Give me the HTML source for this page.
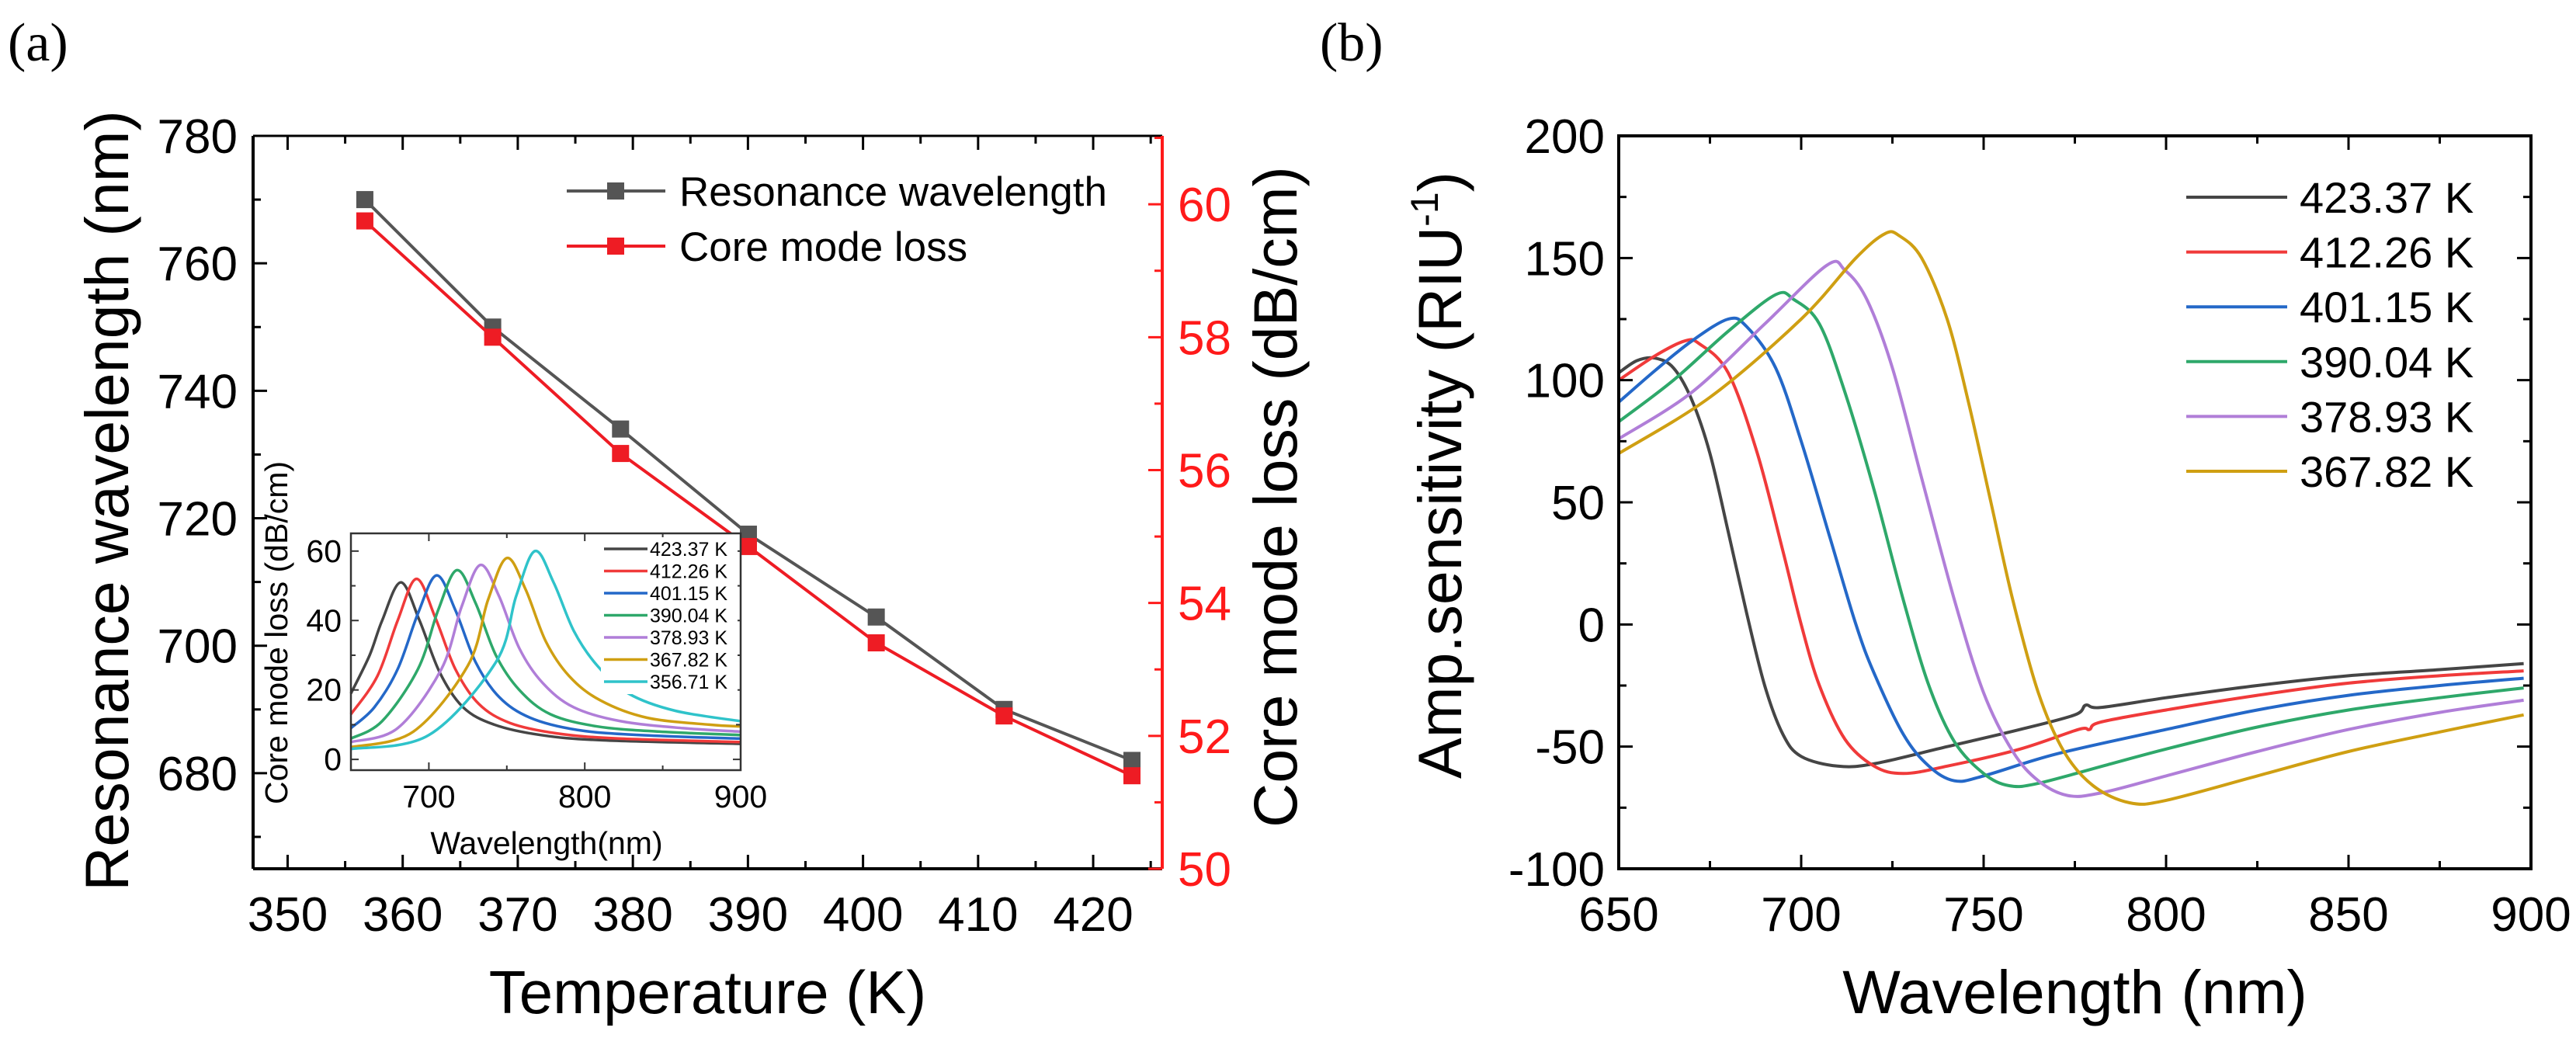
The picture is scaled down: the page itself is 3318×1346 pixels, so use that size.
<!DOCTYPE html>
<html><head><meta charset="utf-8"><style>
body{margin:0;background:#fff}
svg text{font-family:"Liberation Sans",Arial,sans-serif}
</style></head><body>
<svg id="fig" width="3318" height="1341" viewBox="0 0 3318 1341" xmlns="http://www.w3.org/2000/svg">
<rect width="3318" height="1341" fill="#fff"/>
<g id="A"></g>
<g id="B"></g>
</svg>
<script>
// ---- Panel (a) data ----
const tempK = [356.71, 367.82, 378.93, 390.04, 401.15, 412.26, 423.37];
const resWavelength = [770, 750, 734, 717.5, 704.5, 690, 682];
const coreLoss = [59.75, 58.0, 56.25, 54.85, 53.4, 52.3, 51.4];
const aXTicks = [350, 360, 370, 380, 390, 400, 410, 420];
const aYTicks = [680, 700, 720, 740, 760, 780];
const aY2Ticks = [50, 52, 54, 56, 58, 60];
// ---- Inset data ----
const insetLabels = ["423.37 K","412.26 K","401.15 K","390.04 K","378.93 K","367.82 K","356.71 K"];
const insetK423 = [[650,19],[662,30],[670,40],[682,51],[694,40],[707,25],[722,15],[742,10],[772,7],[812,5.5],[900,4.5]];
const insetK412 = [[650,13],[667,24],[680,40],[692,52],[704,41],[717,26],[732,16],[752,10.5],[782,7.5],[822,6],[900,5]];
const insetK401 = [[650,9],[665,15],[680,26],[693,42],[705,53],[717,43],[730,28],[745,18],[765,12],[795,8.5],[835,7],[900,6]];
const insetK390 = [[650,6],[670,11],[693,26],[706,43],[718,54.5],[730,45],[743,30],[758,20],[778,13],[808,9.5],[848,8],[900,7]];
const insetK379 = [[650,5],[680,9],[708,26],[721,44],[733,56],[745,47],[758,32],[773,22],[793,15],[823,11],[863,9],[900,8]];
const insetK368 = [[650,3.5],[690,8],[725,27],[738,46],[750,58],[762,49],[775,34],[790,24],[810,17],[840,12],[880,10],[900,9.5]];
const insetK357 = [[650,3],[700,7],[743,28],[756,47],[768,60],[780,51],[793,37],[808,27],[828,19],[858,14],[900,11]];
const insetXTicks = [700, 800, 900];
const insetYTicks = [0, 20, 40, 60];
// ---- Panel (b) data ----
const bLabels = ["423.37 K","412.26 K","401.15 K","390.04 K","378.93 K","367.82 K"];
const sensK423 = [[650,103],[655,108],[660,109],[665,105],[670,92],[675,70],[680,38],[685,5],[690,-25],[695,-45],[700,-54],[710,-58],[720,-57],[740,-50],[760,-43],[775,-37],[778,-33],[782,-34],[800,-30],[825,-25],[850,-21],[875,-18.5],[898,-16]];
const sensK412 = [[650,100],[660,110],[668,116],[672,115],[680,103],[688,70],[695,30],[700,0],[705,-25],[712,-47],[720,-58],[728,-61],[740,-58],[760,-51],[776,-43],[779,-43],[782,-40],[800,-35],[825,-29],[850,-24],[875,-21],[898,-19]];
const sensK401 = [[650,91],[660,104],[670,116],[680,125],[685,122],[693,105],[700,75],[708,35],[715,0],[720,-20],[728,-45],[735,-58],[742,-64],[750,-62],[770,-53],[800,-43],[825,-35],[850,-29],[875,-25],[898,-22]];
const sensK390 = [[650,83],[665,100],[680,120],[693,135],[698,133],[705,123],[712,95],[720,55],[728,10],[735,-25],[742,-48],[750,-61],[757,-66],[765,-65],[785,-57],[800,-51],[825,-42],[850,-35],[875,-30],[898,-26]];
const sensK379 = [[650,76],[670,95],[690,123],[707,147],[712,145],[718,133],[725,105],[733,60],[742,10],[750,-28],[758,-52],[765,-64],[773,-70],[782,-69],[800,-62],[825,-52],[850,-43],[875,-36],[898,-31]];
const sensK368 = [[650,70],[675,93],[700,125],[715,150],[723,160],[727,159],[733,150],[740,125],[746,90],[752,50],[758,10],[765,-28],[772,-52],[780,-66],[790,-73],[800,-72],[825,-62],[850,-52],[875,-44],[898,-37]];
const bXTicks = [650, 700, 750, 800, 850, 900];
const bYTicks = [-100, -50, 0, 50, 100, 150, 200];

const NS = "http://www.w3.org/2000/svg";
function mk(parent, tag, attrs, txt){
  const e = document.createElementNS(NS, tag);
  for (const k in attrs) e.setAttribute(k, attrs[k]);
  if (txt !== undefined) e.textContent = txt;
  parent.appendChild(e); return e;
}
function lin(d0,d1,r0,r1){ return v => r0 + (v-d0)/(d1-d0)*(r1-r0); }
function smoothPath(pts){
  let d = "M" + pts[0][0].toFixed(1) + "," + pts[0][1].toFixed(1);
  for (let i=0;i<pts.length-1;i++){
    const p0 = pts[Math.max(0,i-1)], p1 = pts[i], p2 = pts[i+1], p3 = pts[Math.min(pts.length-1,i+2)];
    const c1x = p1[0]+(p2[0]-p0[0])/6, c1y = p1[1]+(p2[1]-p0[1])/6;
    const c2x = p2[0]-(p3[0]-p1[0])/6, c2y = p2[1]-(p3[1]-p1[1])/6;
    d += " C"+c1x.toFixed(1)+","+c1y.toFixed(1)+" "+c2x.toFixed(1)+","+c2y.toFixed(1)+" "+p2[0].toFixed(1)+","+p2[1].toFixed(1);
  }
  return d;
}
const colors = ["#454545","#f03a3a","#2468c8","#2ea86a","#b07ed8","#cf9f12","#2fc3ca"];

// ===== Panel (a) =====
const A = document.getElementById("A");
const aL=326, aR=1497, aT=175, aB=1119;
const ax = lin(347, 426, aL, aR);
const ay = lin(665, 780, aB, aT);
const ay2 = lin(50, 61.03, aB, aT);
let t = mk(A,"text",{x:10,y:78,"font-size":70,"font-family":"Liberation Serif, serif",style:"font-family:'Liberation Serif',serif"},"(a)");


let g = mk(A,"g",{});  
mk(g,"line",{x1:aL,y1:aB,x2:aR,y2:aB,stroke:"#000","stroke-width":4});
mk(g,"line",{x1:aL,y1:aT,x2:aR,y2:aT,stroke:"#000","stroke-width":3});
for (let v=350; v<=425; v+=5){
  const maj = v%10===0;
  mk(g,"line",{x1:ax(v),y1:aB,x2:ax(v),y2:aB-(maj?18:10),stroke:"#000","stroke-width":3});
  mk(g,"line",{x1:ax(v),y1:aT,x2:ax(v),y2:aT+(maj?18:10),stroke:"#000","stroke-width":3});
}
aXTicks.forEach(v=>{ const e=mk(g,"text",{x:ax(v),y:aB+80,"font-size":62,"text-anchor":"middle"},String(v));
   });
t = mk(A,"text",{x:(aL+aR)/2,y:1305,"font-size":78,"text-anchor":"middle"},"Temperature (K)");
 
g = mk(A,"g",{});  
mk(g,"line",{x1:aL,y1:aT,x2:aL,y2:aB,stroke:"#000","stroke-width":4});
for (let v=670; v<=780; v+=10){
  const maj = v%20===0;
  mk(g,"line",{x1:aL,y1:ay(v),x2:aL+(maj?18:10),y2:ay(v),stroke:"#000","stroke-width":3});
}
aYTicks.forEach(v=>{ const e=mk(g,"text",{x:aL-20,y:ay(v)+22,"font-size":62,"text-anchor":"end"},String(v));
   });
t = mk(A,"text",{x:0,y:0,"font-size":79,"text-anchor":"middle",transform:"translate(165,645) rotate(-90)"},"Resonance wavelength (nm)");
 
g = mk(A,"g",{});  
mk(g,"line",{x1:aR,y1:aT,x2:aR,y2:aB,stroke:"#ff1a1a","stroke-width":4});
for (let v=50; v<=61; v+=1){
  const maj = v%2===0;
  mk(g,"line",{x1:aR,y1:ay2(v),x2:aR-(maj?18:10),y2:ay2(v),stroke:"#ff1a1a","stroke-width":3});
}
aY2Ticks.forEach(v=>{ const e=mk(g,"text",{x:aR+20,y:ay2(v)+22,"font-size":62,fill:"#ff1a1a"},String(v));
   });
t = mk(A,"text",{x:0,y:0,"font-size":79,"text-anchor":"middle",transform:"translate(1670,640) rotate(-90)"},"Core mode loss (dB/cm)");
 
// series
function seriesA(vals, scale, color, name){
  const sg = mk(A,"g",{});
  
  
  const pts = tempK.map((k,i)=>[ax(k), scale(vals[i])]);
  mk(sg,"polyline",{points:pts.map(p=>p.join(",")).join(" "),fill:"none",stroke:color,"stroke-width":4});
  pts.forEach(p=>{ const r=mk(sg,"rect",{x:p[0]-11,y:p[1]-11,width:22,height:22,fill:color});
     });
}
seriesA(resWavelength, ay, "#555", "resonance-wavelength-series");
seriesA(coreLoss, ay2, "#ee1c24", "core-mode-loss-series");
// legend
g = mk(A,"g",{});  
[["Resonance wavelength","#555",246],["Core mode loss","#ee1c24",317]].forEach(([lab,c,y])=>{
  const eg = mk(g,"g",{});  
  mk(eg,"line",{x1:730,y1:y,x2:857,y2:y,stroke:c,"stroke-width":4});
  mk(eg,"rect",{x:782,y:y-11,width:22,height:22,fill:c});
  mk(eg,"text",{x:875,y:y+19,"font-size":53},lab);
});
// inset
const I = mk(A,"g",{});  
const iL=452, iR=954, iT=687, iB=992;
const ix = lin(650, 900, iL, iR), iy = lin(-3.1, 65.1, iB, iT);
mk(I,"rect",{x:iL,y:iT,width:iR-iL,height:iB-iT,fill:"#fff",stroke:"none"});
const insetSeries=[insetK423,insetK412,insetK401,insetK390,insetK379,insetK368,insetK357];
insetSeries.forEach((s,i)=>{
  const p = mk(I,"path",{d:smoothPath(s.map(q=>[ix(q[0]),iy(q[1])])),fill:"none",stroke:colors[i],"stroke-width":3.5});
  
  
});
mk(I,"rect",{x:iL,y:iT,width:iR-iL,height:iB-iT,fill:"none",stroke:"#333","stroke-width":2.5});
for (let v=650; v<=900; v+=50){
  const maj = v%100===0;
  mk(I,"line",{x1:ix(v),y1:iB,x2:ix(v),y2:iB-(maj?10:6),stroke:"#333","stroke-width":2});
  mk(I,"line",{x1:ix(v),y1:iT,x2:ix(v),y2:iT+(maj?10:6),stroke:"#333","stroke-width":2});
}
for (let v=0; v<=60; v+=10){
  const maj = v%20===0;
  mk(I,"line",{x1:iL,y1:iy(v),x2:iL+(maj?10:6),y2:iy(v),stroke:"#333","stroke-width":2});
  mk(I,"line",{x1:iR,y1:iy(v),x2:iR-(maj?10:6),y2:iy(v),stroke:"#333","stroke-width":2});
}
insetXTicks.forEach(v=>{ const e=mk(I,"text",{x:ix(v),y:iB+48,"font-size":41,"text-anchor":"middle"},String(v));
   });
insetYTicks.forEach(v=>{ const e=mk(I,"text",{x:iL-12,y:iy(v)+14,"font-size":41,"text-anchor":"end"},String(v));
   });
t = mk(I,"text",{x:704,y:1100,"font-size":41,"text-anchor":"middle"},"Wavelength(nm)");
 
t = mk(I,"text",{x:0,y:0,"font-size":41,"text-anchor":"middle",transform:"translate(370,815) rotate(-90)"},"Core mode loss (dB/cm)");
 
const ilg = mk(I,"g",{});  
mk(ilg,"rect",{x:774,y:692,width:176,height:202,fill:"#fff"});
insetLabels.forEach((lab,i)=>{
  const y = 707 + i*28.5;
  const eg = mk(ilg,"g",{});  
  mk(eg,"line",{x1:778,y1:y,x2:834,y2:y,stroke:colors[i],"stroke-width":3.5});
  mk(eg,"text",{x:837,y:y+9,"font-size":25},lab);
});

// ===== Panel (b) =====
const B = document.getElementById("B");
const bL=2085, bR=3260, bT=175, bB=1119;
const bx = lin(650, 900, bL, bR), by = lin(-100, 200, bB, bT);
t = mk(B,"text",{x:1700,y:78,"font-size":70,style:"font-family:'Liberation Serif',serif"},"(b)");
 
const bSeries=[sensK423,sensK412,sensK401,sensK390,sensK379,sensK368];
const clip = mk(B,"clipPath",{id:"bclip"}); mk(clip,"rect",{x:bL,y:bT,width:bR-bL,height:bB-bT});
bSeries.forEach((s,i)=>{
  const p = mk(B,"path",{d:smoothPath(s.map(q=>[bx(q[0]),by(q[1])])),fill:"none",stroke:colors[i],"stroke-width":4,"clip-path":"url(#bclip)"});
  
  
});
g = mk(B,"g",{});  
mk(g,"rect",{x:bL,y:bT,width:bR-bL,height:bB-bT,fill:"none",stroke:"#000","stroke-width":4});
for (let v=650; v<=900; v+=25){
  const maj = v%50===0;
  mk(g,"line",{x1:bx(v),y1:bB,x2:bx(v),y2:bB-(maj?18:10),stroke:"#000","stroke-width":3});
  mk(g,"line",{x1:bx(v),y1:bT,x2:bx(v),y2:bT+(maj?18:10),stroke:"#000","stroke-width":3});
}
for (let v=-100; v<=200; v+=25){
  const maj = v%50===0;
  mk(g,"line",{x1:bL,y1:by(v),x2:bL+(maj?18:10),y2:by(v),stroke:"#000","stroke-width":3});
  mk(g,"line",{x1:bR,y1:by(v),x2:bR-(maj?18:10),y2:by(v),stroke:"#000","stroke-width":3});
}
bXTicks.forEach(v=>{ const e=mk(g,"text",{x:bx(v),y:bB+80,"font-size":62,"text-anchor":"middle"},String(v));
   });
bYTicks.forEach(v=>{ const e=mk(g,"text",{x:bL-18,y:by(v)+22,"font-size":62,"text-anchor":"end"},String(v));
   });
t = mk(B,"text",{x:(bL+bR)/2,y:1305,"font-size":79,"text-anchor":"middle"},"Wavelength (nm)");
 
t = mk(B,"text",{x:0,y:0,"font-size":79,"text-anchor":"middle",transform:"translate(1882,612) rotate(-90)"});
 
mk(t,"tspan",{},"Amp.sensitivity (RIU");
mk(t,"tspan",{"font-size":50,dy:-30},"-1");
mk(t,"tspan",{dy:30},")");
g = mk(B,"g",{});  
bLabels.forEach((lab,i)=>{
  const y = 254 + i*70.6;
  const eg = mk(g,"g",{});  
  mk(eg,"line",{x1:2816,y1:y,x2:2946,y2:y,stroke:colors[i],"stroke-width":4});
  mk(eg,"text",{x:2962,y:y+20,"font-size":56},lab);
});
</script>
</body></html>
